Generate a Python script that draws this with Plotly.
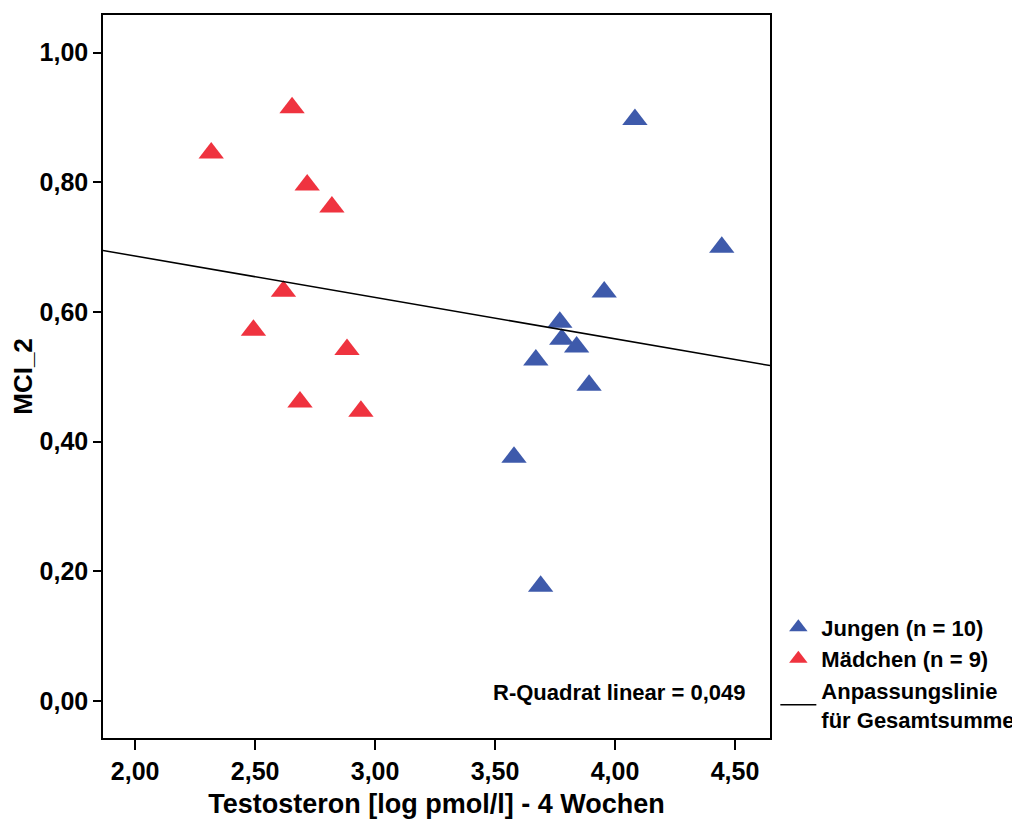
import numpy as np
import plotly.graph_objects as go

# Data
jungen_x = [4.083, 4.445, 3.955, 3.770, 3.778, 3.840, 3.670, 3.892, 3.579, 3.690]
jungen_y = [0.897, 0.700, 0.631, 0.584, 0.558, 0.546, 0.526, 0.487, 0.376, 0.177]
maedchen_x = [2.317, 2.654, 2.717, 2.820, 2.618, 2.493, 2.883, 2.687, 2.941]
maedchen_y = [0.845, 0.915, 0.796, 0.762, 0.632, 0.572, 0.542, 0.461, 0.447]

x_range = [1.866, 4.646]
y_range = [-0.057, 1.058]
y_ticks = [0.0, 0.2, 0.4, 0.6, 0.8, 1.0]
x_ticks = [2.0, 2.5, 3.0, 3.5, 4.0, 4.5]
r2_text = "R-Quadrat linear = 0,049"

# Linear fit over all points
all_x = np.array(jungen_x + maedchen_x)
all_y = np.array(jungen_y + maedchen_y)
slope, intercept = np.polyfit(all_x, all_y, 1)
fit_x = np.array(x_range)
fit_y = slope * fit_x + intercept

BLUE = "#3E5AAB"
RED = "#EF333F"
FONT = "Liberation Sans"

fig = go.Figure()
fig.add_trace(go.Scatter(
    x=jungen_x, y=jungen_y, mode="markers", name="Jungen (n = 10)",
    marker=dict(symbol="triangle-up", size=22, color=BLUE, line=dict(width=0)),
))
fig.add_trace(go.Scatter(
    x=maedchen_x, y=maedchen_y, mode="markers", name="Mädchen (n = 9)",
    marker=dict(symbol="triangle-up", size=22, color=RED, line=dict(width=0)),
))
fig.add_trace(go.Scatter(
    x=fit_x, y=fit_y, mode="lines", name="Anpassungslinie<br>für Gesamtsumme",
    line=dict(color="black", width=1.5),
))

fig.update_layout(
    width=1012, height=811,
    margin=dict(l=95, r=250, t=7, b=81, autoexpand=False),
    paper_bgcolor="white", plot_bgcolor="white",
    separators=",.",
    font=dict(family=FONT, color="black"),
    legend=dict(
        x=1.008, y=0.182, xanchor="left", yanchor="top",
        font=dict(family=FONT, size=22, color="black", weight="bold"),
        bgcolor="rgba(0,0,0,0)", tracegroupgap=0, itemwidth=36,
    ),
    xaxis=dict(
        range=x_range, tickvals=x_ticks, tickformat=".2f",
        showgrid=False, zeroline=False,
        showline=True, linecolor="black", linewidth=1.5, mirror=True,
        ticks="outside", ticklen=10, tickwidth=1.5, tickcolor="black",
        tickfont=dict(family=FONT, size=25, weight="bold"),
        title=dict(text="Testosteron [log pmol/l] - 4 Wochen",
                   font=dict(family=FONT, size=27, weight="bold"), standoff=10),
    ),
    yaxis=dict(
        range=y_range, tickvals=y_ticks, tickformat=".2f",
        showgrid=False, zeroline=False,
        showline=True, linecolor="black", linewidth=1.5, mirror=True,
        ticks="outside", ticklen=8, tickwidth=1.5, tickcolor="black",
        tickfont=dict(family=FONT, size=25, weight="bold"),
        title=dict(text="MCI_2", font=dict(family=FONT, size=26, weight="bold"), standoff=4),
    ),
    annotations=[dict(
        text=r2_text, xref="paper", yref="paper", x=0.967, y=0.0636,
        xanchor="right", yanchor="middle", showarrow=False,
        font=dict(family=FONT, size=22, weight="bold", color="black"),
    )],
)

fig.write_html("out.html")
